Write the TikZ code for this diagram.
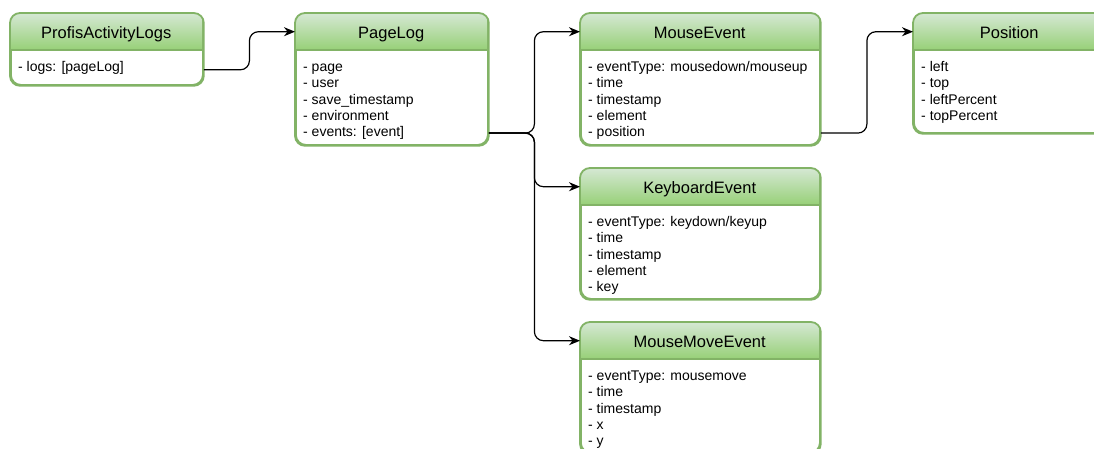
\documentclass[tikz,border=0pt]{standalone}
\usepackage{fontspec}
\setmainfont{Liberation Sans}
\usetikzlibrary{arrows.meta,calc}

\definecolor{hdtop}{HTML}{D5E8D4}
\definecolor{hdbot}{HTML}{97D077}
\definecolor{edge}{HTML}{82B366}

\tikzset{
  classframe/.style={draw=edge, line width=1.8pt, rounded corners=10pt, fill=white,
    inner sep=0pt, anchor=north west},
  headtext/.style={font=\fontsize{16.5}{19}\selectfont, inner sep=0pt, anchor=north west,
    text height=13pt, text depth=0pt},
  rowtext/.style={font=\fontsize{14}{16.3}\selectfont, inner sep=0pt, anchor=base west},
  link/.style={draw=black, line width=1.2pt, rounded corners=9pt,
    -{Stealth[length=11pt,width=9pt,inset=3.5pt]}},
  elbow/.style={to path={-| ($(\tikztostart)!0.5!(\tikztotarget)$) |- (\tikztotarget)}},
}

% class box: #1 name, #2 left, #3 top, #4 width, #5 height, #6 title, #7 rows (comma list)
\newcommand\classbox[7]{%
  \node[classframe, minimum width=#4pt, minimum height=#5pt] (#1) at (#2,#3) {};
  \begin{scope}
    \clip[rounded corners=10pt] (#1.north west) rectangle (#1.south east);
    \shade[top color=hdtop, bottom color=hdbot] (#2,#3) rectangle ++(#4,37);
  \end{scope}
  \draw[edge, line width=1.8pt, rounded corners=10pt] (#1.north west) rectangle (#1.south east);
  \draw[edge, line width=1.8pt] (#2,#3+37) -- ++(#4,0);
  \node[headtext, minimum width=#4pt, minimum height=37pt] (#1-h) at (#2,#3) {#6};
  \foreach \row [count=\i] in {#7}
    \node[rowtext] (#1-r\i) at (#2+8,#3+58.5+16.3*\i-16.3) {\row};
}

\begin{document}
\begin{tikzpicture}[x=1pt, y=-1pt]
  \clip (0,0) rectangle (1094,448);
  \fill[white] (0,0) rectangle (1094,448);

  \classbox{pal}{10}{13}{192}{71}{ProfisActivityLogs}{- logs: [pageLog]}
  \classbox{pl}{295}{13}{192}{131}{PageLog}{- page,- user,- save\_timestamp,- environment,- events: [event]}
  \classbox{me}{580}{13}{239}{131}{MouseEvent}{- eventType: mousedown/mouseup,- time,- timestamp,- element,- position}
  \classbox{pos}{913}{13}{192}{119}{Position}{- left,- top,- leftPercent,- topPercent}
  \classbox{kb}{580}{168}{239}{130}{KeyboardEvent}{- eventType: keydown/keyup,- time,- timestamp,- element,- key}
  \classbox{mm}{580}{322}{239}{130}{MouseMoveEvent}{- eventType: mousemove,- time,- timestamp,- x,- y}

  % outgoing attachment points on the referencing rows
  \coordinate (pal-out) at ($(pal.south east)+(0,-16)$);
  \coordinate (pl-out)  at (pl.east |- pl-r5);
  \coordinate (me-out)  at (me.east |- me-r5);

  \draw[link] (pal-out) to[elbow] (pl-h.west);
  \draw[link] (pl-out) to[elbow] (me-h.west);
  \draw[link] (pl-out) to[elbow] (kb-h.west);
  \draw[link] (pl-out) to[elbow] (mm-h.west);
  \draw[link] (me-out) to[elbow] (pos-h.west);
\end{tikzpicture}
\end{document}
